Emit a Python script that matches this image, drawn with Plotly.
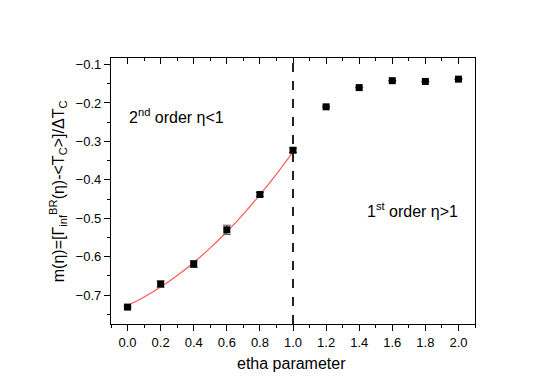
import plotly.graph_objects as go

# measured points
eta = [0.0, 0.2, 0.4, 0.6, 0.8, 1.0, 1.2, 1.4, 1.6, 1.8, 2.0]
m_eta = [-0.731, -0.671, -0.619, -0.530, -0.438, -0.323, -0.210, -0.160, -0.142, -0.144, -0.138]
m_err = [0.003, 0.008, 0.009, 0.012, 0.005, 0.006, 0, 0, 0, 0, 0]

# quadratic fit curve (second order region)
fit_eta = [0.0, 0.1, 0.2, 0.3, 0.4, 0.5, 0.6, 0.7, 0.8, 0.9, 1.0]
fit_m = [-0.727, -0.705, -0.679, -0.649, -0.615, -0.577, -0.535, -0.489, -0.439, -0.385, -0.327]

FONT = "Liberation Sans, Arial, sans-serif"
xr = [-0.1, 2.1]
yr = [-0.775, -0.083]

fig = go.Figure()

fig.add_trace(go.Scatter(
    x=fit_eta, y=fit_m, mode="lines", line=dict(color="#ff5a5a", width=1.2, shape="spline"),
    showlegend=False, hoverinfo="skip"))

fig.add_trace(go.Scatter(
    x=eta, y=m_eta, mode="markers",
    marker=dict(symbol="square", size=7, color="black"),
    error_y=dict(type="data", array=m_err, color="#555555", thickness=1, width=4),
    showlegend=False))

# dummy trace on the top axis so it gets drawn
fig.add_trace(go.Scatter(x=[], y=[], xaxis="x2", showlegend=False))

fig.add_vline(x=1.0, line=dict(color="#222222", width=2, dash="dash"))

axis_common = dict(showgrid=False, zeroline=False, linecolor="black", linewidth=1.3,
                   tickcolor="black", tickwidth=1.2,
                   tickfont=dict(family=FONT, size=13, color="black"))

fig.update_layout(
    width=550, height=384,
    margin=dict(l=103, r=83, t=50, b=68),
    paper_bgcolor="white", plot_bgcolor="white",
    font=dict(family=FONT, color="black"),
    xaxis=dict(range=xr, tickmode="linear", tick0=0, dtick=0.2, tickformat=".1f",
               ticks="outside", ticklen=6, mirror=True, showline=True,
               minor=dict(dtick=0.1, tick0=0, ticks="outside", ticklen=3, tickcolor="black"),
               **axis_common),
    xaxis2=dict(range=xr, overlaying="x", side="top", tickmode="linear", tick0=0, dtick=0.2,
                ticks="inside", ticklen=6, showticklabels=False, showline=False,
                minor=dict(dtick=0.1, tick0=0, ticks="inside", ticklen=3, tickcolor="black"),
                **axis_common),
    yaxis=dict(range=yr, tickmode="linear", tick0=-0.1, dtick=0.1, tickformat=".1f",
               ticks="outside", ticklen=6, mirror=True, showline=True,
               minor=dict(dtick=0.05, tick0=-0.1, ticks="outside", ticklen=3, tickcolor="black"),
               **axis_common),
)

fig.add_annotation(
    text="m(η)=[Γ<sub>inf</sub><sup>BR</sup>(η)-&lt;T<sub>C</sub>&gt;]/ΔT<sub>C</sub>",
    xref="paper", yref="paper", x=-0.145, y=0.5, textangle=-90,
    xanchor="center", yanchor="middle", showarrow=False,
    font=dict(family=FONT, size=16, color="black"))

fig.add_annotation(
    text="etha parameter", xref="paper", yref="paper", x=0.497, y=-0.147,
    xanchor="center", yanchor="middle", showarrow=False,
    font=dict(family=FONT, size=16, color="black"))

fig.add_annotation(
    text="2<sup>nd</sup> order η&lt;1", x=0.297, y=-0.233, xanchor="center", yanchor="middle",
    showarrow=False, font=dict(family=FONT, size=16, color="black"))

fig.add_annotation(
    text="1<sup>st</sup> order η&gt;1", x=1.72, y=-0.479, xanchor="center", yanchor="middle",
    showarrow=False, font=dict(family=FONT, size=16, color="black"))

fig.write_html("out.html")
